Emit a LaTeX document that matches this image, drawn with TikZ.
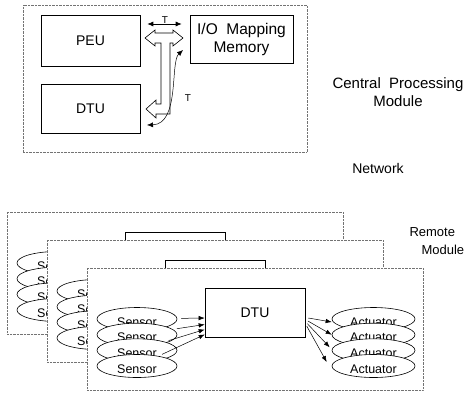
\documentclass[tikz,border=0pt]{standalone}
\usepackage{fontspec}
\setmainfont{Liberation Sans}
\usetikzlibrary{shapes.geometric,arrows.meta}
\tikzset{
  dotbox/.style={draw=black!55, densely dotted, fill=white},
  plainbox/.style={draw=black, line width=0.6pt, fill=white, inner sep=0pt},
  ell/.style={ellipse, draw=black, line width=0.6pt, fill=white, inner sep=0pt,
              minimum height=23pt, text height=14.5pt, text depth=0pt,
              font=\fontsize{12.5}{14}\selectfont},
  sarr/.style={-{Latex[length=6pt,width=4.5pt]}, line width=0.5pt},
  dblarr/.style={{Latex[length=6pt,width=5pt]}-{Latex[length=6pt,width=5pt]}, line width=0.7pt},
  lbl/.style={font=\fontsize{14}{16}\selectfont, align=center}
}
\begin{document}
\begin{tikzpicture}[x=1pt,y=-1pt]
\useasboundingbox[fill=white] (0,0) rectangle (466,400);

% ---------- central processing module ----------
\node[dotbox, minimum width=284pt, minimum height=147pt, inner sep=0pt] (cpm) at (165,78.5) {};
\node[plainbox, minimum width=99pt, minimum height=51pt, font=\fontsize{14}{16}\selectfont] (peu) at (90.5,40.5) {PEU};
\node[plainbox, minimum width=99pt, minimum height=49pt, font=\fontsize{14}{16}\selectfont] (cdtu) at (90.5,108.5) {DTU};
\node[plainbox, minimum width=103pt, minimum height=48pt, align=center, font=\fontsize{15.5}{18}\selectfont] (iom) at (241.5,39) {I/O\ \ Mapping\\Memory};

% top double arrow
\draw[dblarr, shorten <=7pt, shorten >=8pt] ([yshift=16.5pt]peu.east) -- node[above, inner sep=0.5pt, font=\fontsize{10}{12}\selectfont] (tt) {T} ([yshift=15pt]iom.west);

% hollow bus
\draw[line width=0.6pt, fill=white]
  (145,38) -- (155,30) -- (155,33) -- (173,33) -- (173,30) -- (183,38) -- (173,46) -- (173,43)
  -- (170,43) -- (170,114) -- (156,114) -- (156,118) -- (146,109) -- (156,100) -- (156,104)
  -- (161,104) -- (161,43) -- (155,43) -- (155,46) -- cycle;

% curved arrow
\coordinate (cA) at (147,125);
\coordinate (cB) at (183,50);
\draw[dblarr, line width=0.5pt] (cA) .. controls (180,124) and (170,62) .. (cB);
\node[font=\fontsize{10}{12}\selectfont] (tc) at (188,98) {T};

% labels
\node[lbl, font=\fontsize{15}{18}\selectfont] (cpmlbl) at (398,92) {Central\ \ Processing\\Module};
\node[lbl, font=\fontsize{14}{16}\selectfont] (netlbl) at (378,168) {Network};
\node[anchor=west, font=\fontsize{13}{15}\selectfont] (rml1) at (406,232) {Remote};
\node[anchor=west, font=\fontsize{13}{15}\selectfont] (rml2) at (418,250) {Module};

% ---------- remote modules ----------
\foreach \p/\dx/\dy in {r1/-80/-56, r2/-40/-28, r3/0/0}{
\begin{scope}[shift={(\dx,\dy)}]
  \node[dotbox, minimum width=336pt, minimum height=122pt, inner sep=0pt] (\p-box) at (255,329) {};
  \node[plainbox, minimum width=100pt, minimum height=49pt, font=\fontsize{14}{16}\selectfont] (\p-dtu) at (255,312.5) {DTU};
  \node[ell, minimum width=80pt] (\p-s1) at (137,319) {Sensor};
  \node[ell, minimum width=80pt] (\p-s2) at (137,334.7) {Sensor};
  \node[ell, minimum width=80pt] (\p-s3) at (137,350.3) {Sensor};
  \node[ell, minimum width=80pt] (\p-s4) at (137,366) {Sensor};
  \node[ell, minimum width=83pt] (\p-a1) at (373.5,319) {Actuator};
  \node[ell, minimum width=83pt] (\p-a2) at (373.5,334.7) {Actuator};
  \node[ell, minimum width=83pt] (\p-a3) at (373.5,350.3) {Actuator};
  \node[ell, minimum width=83pt] (\p-a4) at (373.5,366) {Actuator};
  \draw[sarr, shorten <=4pt] (\p-s1) -- ([yshift=-5.5pt]\p-dtu.west);
  \draw[sarr, shorten <=4pt] (\p-s2) -- ([yshift=-12pt]\p-dtu.west);
  \draw[sarr, shorten <=4pt] (\p-s3) -- ([yshift=-17pt]\p-dtu.west);
  \draw[sarr, shorten <=4pt] (\p-s4) -- ([yshift=-22pt]\p-dtu.west);
  \draw[sarr, shorten <=3pt] ([yshift=-5pt]\p-dtu.east) -- ([yshift=-3pt]\p-a1.west);
  \draw[sarr, shorten <=3pt] ([yshift=-7pt]\p-dtu.east) -- (\p-a2.west);
  \draw[sarr, shorten <=3pt] ([yshift=-9pt]\p-dtu.east) -- ([xshift=-2pt,yshift=3pt]\p-a3.west);
  \draw[sarr, shorten <=3pt] ([yshift=-11pt]\p-dtu.east) -- ([xshift=-5pt,yshift=4pt]\p-a4.west);
\end{scope}
}
\end{tikzpicture}
\end{document}
